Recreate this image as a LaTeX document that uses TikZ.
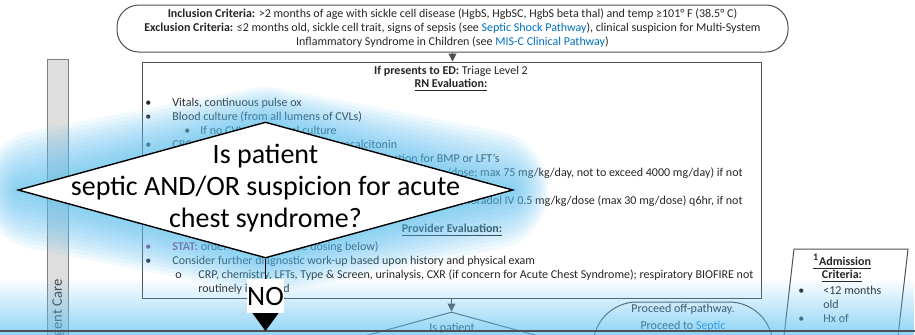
\documentclass[tikz,border=0pt]{standalone}
\usepackage{fontspec}
\setmainfont{Carlito}
\usepackage{tikz}
\usetikzlibrary{arrows.meta}
\usetikzlibrary{shapes.geometric}
\usetikzlibrary{fadings}
\definecolor{linkblue}{RGB}{0,112,192}
\definecolor{statred}{RGB}{160,40,85}
\definecolor{glowblue}{RGB}{90,192,242}
\definecolor{lanegray}{RGB}{222,222,222}
\definecolor{boxgray}{RGB}{80,80,80}
\newcommand{\lnk}[1]{\textcolor{linkblue}{#1}}
\def\pagew{915}
\def\pageh{334}

\begin{document}
\begin{tikzpicture}[x=0.5pt, y=-0.5pt,
	small/.style={font=\fontsize{6}{7}\selectfont, inner sep=0pt, text=black!85},
	txtline/.style={small, anchor=mid west},
	endline/.style={small, anchor=mid east},
	head/.style={font=\fontsize{6}{7}\selectfont, inner sep=0pt, text=black!85},
	mid/.style={font=\fontsize{6}{8.5}\selectfont, inner sep=0pt, text=black!85, align=center},
	big/.style={font=\fontsize{14}{16}\selectfont, inner sep=0pt, align=center},
	box/.style={draw=boxgray, line width=0.5pt, fill=white},
	decision/.style={diamond, minimum width=247.5pt, minimum height=68pt, inner sep=0pt},
	flow/.style={draw=boxgray, line width=0.5pt, -{Triangle[width=4pt,length=4pt]}}]
	\useasboundingbox (0,0) rectangle (\pagew,\pageh);
	\clip (0,0) rectangle (\pagew,\pageh);
	\fill[white] (0,0) rectangle (\pagew,\pageh);
	%lane
	\node[draw=gray, fill=lanegray, line width=0.5pt, minimum width=10.5pt, minimum height=145pt, anchor=north] (lane) at (57.5,59) {};
	\node[font=\fontsize{7.3}{8}\selectfont, text=black!75, rotate=90, anchor=east, inner sep=0pt] (lanelbl) at (58,279) {Emergency Department/Urgent Care};
	%criteria
	\node[box, small, rounded corners=11pt, minimum width=335.5pt, minimum height=23.5pt, align=center] (incl) at (452.5,28.5)
		{\textbf{Inclusion Criteria:} >2 months of age with sickle cell disease (HgbS, HgbSC, HgbS beta thal) and temp ≥101° F (38.5° C)\\
		\textbf{Exclusion Criteria:} ≤2 months old, sickle cell trait, signs of sepsis (see \lnk{Septic Shock Pathway}), clinical suspicion for Multi-System\\
		Inflammatory Syndrome in Children (see \lnk{MIS-C Clinical Pathway})};
	%ED evaluation
	\node[box, minimum width=309.5pt, minimum height=118pt] (rn) at (451.5,180) {};
	\draw[flow] (incl.south) -- (incl.south |- rn.north);
	\node[head] (ed) at (451,71) {\textbf{If presents to ED:} Triage Level 2};
	\node[head] (rnev) at (451,85) {\textbf{\underline{RN Evaluation:}}};
	\foreach \y in {102,116,144,158,172,200,260}
		\node[txtline] (b\y) at (145,\y) {\textbullet};
	\foreach \y/\txt in {102/{Vitals, continuous pulse ox},
		116/{Blood culture (from all lumens of CVLs)},
		144/{CBC with diff, reticulocyte count, procalcitonin},
		186/{contraindicated},
		214/{contraindicated},
		260/{Consider further diagnostic work-up based upon history and physical exam}}
		\node[txtline] (l\y) at (172,\y) {\txt};
	\node[endline] (l158) at (500,158) {Antibiotics should not be delayed for collection for BMP or LFT's};
	\node[endline] (l172) at (743,172) {Acetaminophen PO 15 mg/kg/dose (max 1000 mg/dose; max 75 mg/kg/day, not to exceed 4000 mg/day) if not};
	\node[endline] (l200) at (743,200) {If pain, consider ketorolac/Toradol IV 0.5 mg/kg/dose (max 30 mg/dose) q6hr, if not};
	\node[txtline] (b130) at (184,130) {\textbullet};
	\node[txtline] (l130) at (200,130) {If no CVL, peripheral culture};
	\node[head] (prov) at (452,230) {\textbf{\underline{Provider Evaluation:}}};
	\node[txtline, text=statred] (b246) at (145,246) {\textbullet};
	\node[txtline] (l246) at (172,246) {\textcolor{statred}{\textbf{STAT:}} order ceftriaxone (see dosing below)};
	\node[txtline] (b274) at (175,274) {o};
	\node[txtline] (l274) at (198,274) {CRP, chemistry, LFTs, Type \& Screen, urinalysis, CXR (if concern for Acute Chest Syndrome); respiratory BIOFIRE not};
	\node[txtline] (l288) at (198,288) {routinely indicated};
	%next steps
	\node[box, diamond, minimum width=182pt, minimum height=50pt, inner sep=0pt] (dia2) at (451.5,362) {};
	\node[mid] (dia2txt) at (452,328) {Is patient};
	\draw[flow] (rn) -- (dia2);
	\node[box, rounded corners=22pt, minimum width=90pt, minimum height=48pt] (off) at (683,350) {};
	\node[mid] (offtxt) at (683,318) {Proceed off-pathway.\\Proceed to \lnk{Septic}};
	\draw[box] (794,249) -- (908,249) -- (897,345) -- (783,345) -- cycle;
	\node[mid] (adm1) at (842,262) {\textbf{\underline{\textsuperscript{1}Admission}}};
	\node[mid] (adm2) at (842,276) {\textbf{\underline{Criteria:}}};
	\node[mid, anchor=mid west] (ab1) at (798,290) {\textbullet};
	\node[mid, anchor=mid west] (adm3) at (823,290) {<12 months};
	\node[mid, anchor=mid west] (adm4) at (823,304) {old};
	\node[mid, anchor=mid west] (ab2) at (798,318) {\textbullet};
	\node[mid, anchor=mid west] (adm5) at (823,318) {Hx of};
	%blue band
	\fill[glowblue, path fading=north, opacity=0.8] (0,278) rectangle (\pagew,345);
	\draw[boxgray, line width=0.6pt] (0,331) -- (\pagew,331);
	%glow
	\foreach \w [count=\i] in {5,10,...,60}
		\node[decision, draw=glowblue, line width=\w pt, opacity=0.085, line join=round] (glow\i) at (265.5,190) {};
	\node[decision, draw=black, fill=white, line width=0.7pt] (dq) at (265.5,190) {};
	\node[big] (dqtxt) at (265.5,188) {Is patient\\septic AND/OR suspicion for acute\\chest syndrome?};
	\coordinate (noend) at (265.5,331);
	\draw[black, line width=0.6pt, -{Triangle[width=13pt,length=9pt]}] (dq.south) -- (noend);
	\node[big, fill=white, minimum width=18.5pt, minimum height=17pt] (no) at (265.5,296) {NO};
\end{tikzpicture}
\end{document}
